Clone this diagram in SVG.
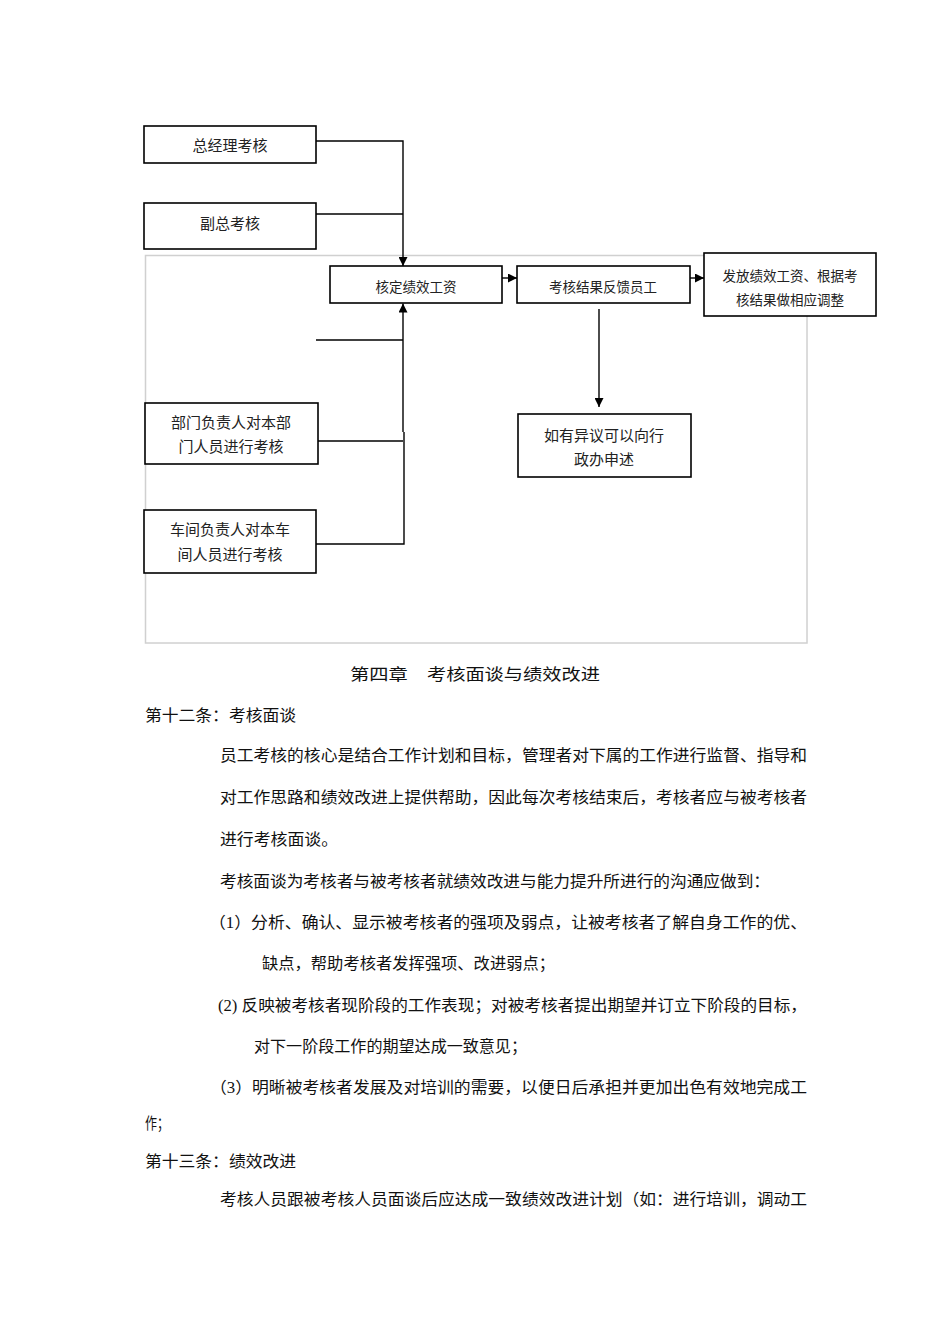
<svg xmlns="http://www.w3.org/2000/svg" width="950" height="1344" viewBox="0 0 950 1344">
<style>
.box{fill:#fff;stroke:#000;stroke-width:1.6}
.bt{font-family:"Liberation Serif","Noto Sans CJK SC",serif;font-size:15px;fill:#222;text-anchor:middle}
.bs{font-family:"Liberation Serif","Noto Sans CJK SC",serif;font-size:13.5px;fill:#222;text-anchor:middle}
.ln{fill:none;stroke:#000;stroke-width:1.4}
.body{font-family:"Liberation Serif","Noto Sans CJK SC",serif;font-size:16px;fill:#111}
</style>
<defs>
<marker id="ah" viewBox="0 0 10 10" refX="10" refY="5" markerWidth="9" markerHeight="9" markerUnits="userSpaceOnUse" orient="auto">
<path d="M0,0 L10,5 L0,10 z" fill="#000"/>
</marker>
</defs>
<rect x="0" y="0" width="950" height="1344" fill="#fff"/>
<rect id="frame" x="145.5" y="255.5" width="661.5" height="387.5" fill="none" stroke="#d0d0d0" stroke-width="1.5"/>
<g id="connectors">
<path class="ln" d="M316,141 H403 V266" marker-end="url(#ah)"/>
<path class="ln" d="M316,214 H403"/>
<path class="ln" d="M403,432 V303.5" marker-end="url(#ah)"/>
<path class="ln" d="M316,340 H403"/>
<path class="ln" d="M318,441 H403"/>
<path class="ln" d="M316,544 H404 V432"/>
<path class="ln" d="M502,278 H517" marker-end="url(#ah)"/>
<path class="ln" d="M690,278 H704" marker-end="url(#ah)"/>
<path class="ln" d="M599,309 V407" marker-end="url(#ah)"/>
</g>
<g id="n1"><rect class="box" x="144" y="126" width="172" height="37"/><text class="bt" x="230" y="151">总经理考核</text></g>
<g id="n2"><rect class="box" x="144" y="203" width="172" height="46"/><text class="bt" x="230" y="229">副总考核</text></g>
<g id="n3"><rect class="box" x="330" y="266" width="172" height="37"/><text class="bs" x="416" y="292">核定绩效工资</text></g>
<g id="n4"><rect class="box" x="517" y="266" width="173" height="37"/><text class="bs" x="603" y="292">考核结果反馈员工</text></g>
<g id="n5"><rect class="box" x="704" y="253" width="172" height="63"/><text class="bs" x="790" y="281">发放绩效工资、根据考</text><text class="bs" x="790" y="305">核结果做相应调整</text></g>
<g id="n6"><rect class="box" x="518" y="414" width="173" height="63"/><text class="bt" x="604" y="441">如有异议可以向行</text><text class="bt" x="604" y="465">政办申述</text></g>
<g id="n7"><rect class="box" x="145" y="403" width="173" height="61"/><text class="bt" x="231" y="428">部门负责人对本部</text><text class="bt" x="231" y="452">门人员进行考核</text></g>
<g id="n8"><rect class="box" x="144" y="510" width="172" height="63"/><text class="bt" x="230" y="535">车间负责人对本车</text><text class="bt" x="230" y="560">间人员进行考核</text></g>
<g id="body">
<text class="body" x="350" y="680" font-size="18" textLength="250" lengthAdjust="spacingAndGlyphs">第四章　考核面谈与绩效改进</text>
<text class="body" x="145" y="721" textLength="151" lengthAdjust="spacingAndGlyphs">第十二条：考核面谈</text>
<text class="body" x="220" y="761" textLength="587" lengthAdjust="spacingAndGlyphs">员工考核的核心是结合工作计划和目标，管理者对下属的工作进行监督、指导和</text>
<text class="body" x="220" y="803" textLength="587" lengthAdjust="spacingAndGlyphs">对工作思路和绩效改进上提供帮助，因此每次考核结束后，考核者应与被考核者</text>
<text class="body" x="220" y="845" textLength="118" lengthAdjust="spacingAndGlyphs">进行考核面谈。</text>
<text class="body" x="220" y="887" textLength="550" lengthAdjust="spacingAndGlyphs">考核面谈为考核者与被考核者就绩效改进与能力提升所进行的沟通应做到：</text>
<text class="body" x="209" y="928" textLength="598" lengthAdjust="spacingAndGlyphs">（1）分析、确认、显示被考核者的强项及弱点，让被考核者了解自身工作的优、</text>
<text class="body" x="262" y="969" textLength="293" lengthAdjust="spacingAndGlyphs">缺点，帮助考核者发挥强项、改进弱点；</text>
<text class="body" x="218" y="1011" textLength="589" lengthAdjust="spacingAndGlyphs">(2) 反映被考核者现阶段的工作表现；对被考核者提出期望并订立下阶段的目标，</text>
<text class="body" x="254" y="1052" textLength="273" lengthAdjust="spacingAndGlyphs">对下一阶段工作的期望达成一致意见；</text>
<text class="body" x="210" y="1093" textLength="597" lengthAdjust="spacingAndGlyphs">（3）明晰被考核者发展及对培训的需要，以便日后承担并更加出色有效地完成工</text>
<text class="body" x="145" y="1129" textLength="24" lengthAdjust="spacingAndGlyphs">作；</text>
<text class="body" x="145" y="1167" textLength="151" lengthAdjust="spacingAndGlyphs">第十三条：绩效改进</text>
<text class="body" x="220" y="1205" textLength="587" lengthAdjust="spacingAndGlyphs">考核人员跟被考核人员面谈后应达成一致绩效改进计划（如：进行培训，调动工</text>
</g>
</svg>
